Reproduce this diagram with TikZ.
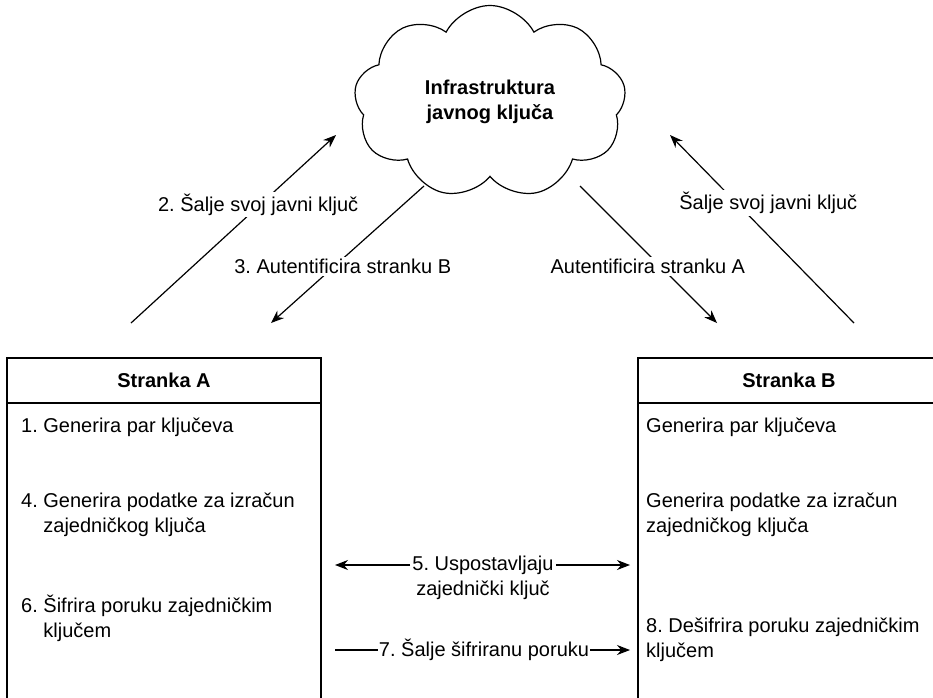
\documentclass[tikz,border=0pt]{standalone}
\usepackage{fontspec}
\setmainfont{Liberation Sans}
\usetikzlibrary{shapes.symbols,arrows.meta}
\frenchspacing

\begin{document}
\begin{tikzpicture}[x=1pt,y=-1pt,
    every node/.style={font=\fontsize{20}{25}\selectfont},
    line/.style={line width=1.2pt},
    arw/.style={line,-{Stealth[length=13pt,width=10pt]}},
    lbl/.style={fill=white,inner sep=2pt},
    item/.style={anchor=west,align=left,inner sep=0pt}]
    \useasboundingbox (0,0) rectangle (933,697);
    \clip (0,0) rectangle (933,697);

    % Cloud
    \node[cloud,draw,line,cloud puffs=9,cloud puff arc=125,cloud ignores aspect,minimum width=272,minimum height=193,
        align=center,font=\fontsize{20}{25}\selectfont\bfseries] (pki) at (490,102) {Infrastruktura\\javnog ključa};

    % Stranka A
    \draw[line] (7,358) rectangle (321,720);
    \node[draw,line,minimum width=314,minimum height=45] (hA) at (164,380.5) {\bfseries Stranka A};
    \node[item] (a1) at (21,427) {1. Generira par ključeva};
    \node[item] (a4) at (21,514.5) {4. Generira podatke za izračun\\\phantom{4. }zajedničkog ključa};
    \node[item] (a6) at (21,618.5) {6. Šifrira poruku zajedničkim\\\phantom{6. }ključem};

    % Stranka B
    \draw[line] (638,358) rectangle (940,720);
    \node[draw,line,minimum width=302,minimum height=45] (hB) at (789,380.5) {\bfseries Stranka B};
    \node[item] (b1) at (646,427) {Generira par ključeva};
    \node[item] (b4) at (646,514.5) {Generira podatke za izračun\\zajedničkog ključa};
    \node[item] (b8) at (646,640) {8. Dešifrira poruku zajedničkim\\ključem};

    % Between A and B
    \node[inner sep=2pt,align=center] (m5) at (483,577.5) {5. Uspostavljaju\\zajednički ključ};
    \coordinate (l5) at (335,565);
    \coordinate (r5) at (630,565);
    \draw[arw] (l5 -| m5.west) -- (l5);
    \draw[arw] (r5 -| m5.east) -- (r5);

    \node[inner sep=1pt] (m7) at (484,650) {7. Šalje šifriranu poruku};
    \coordinate (l7) at (335,650);
    \coordinate (r7) at (630,650);
    \draw[line] (l7) -- (m7.west);
    \draw[arw] (m7.east) -- (r7);

    % To and from the cloud
    \coordinate (sA) at (131,323);
    \coordinate (eA) at (336,135);
    \draw[arw] (sA) -- node[lbl,pos=0.63,xshift=-2] (t2) {2. Šalje svoj javni ključ} (eA);

    \coordinate (sB) at (854,323);
    \coordinate (eB) at (670,135);
    \draw[arw] (sB) -- node[lbl,pos=0.64,xshift=32] (tB) {Šalje svoj javni ključ} (eB);

    \coordinate (cA) at (424,186);
    \coordinate (dA) at (271,323);
    \draw[arw] (cA) -- node[lbl,pos=0.59,xshift=9] (t3) {3. Autentificira stranku B} (dA);

    \coordinate (cB) at (580,186);
    \coordinate (dB) at (717,323);
    \draw[arw] (cB) -- node[lbl,pos=0.59,xshift=-13] (tA) {Autentificira stranku A} (dB);
\end{tikzpicture}
\end{document}
